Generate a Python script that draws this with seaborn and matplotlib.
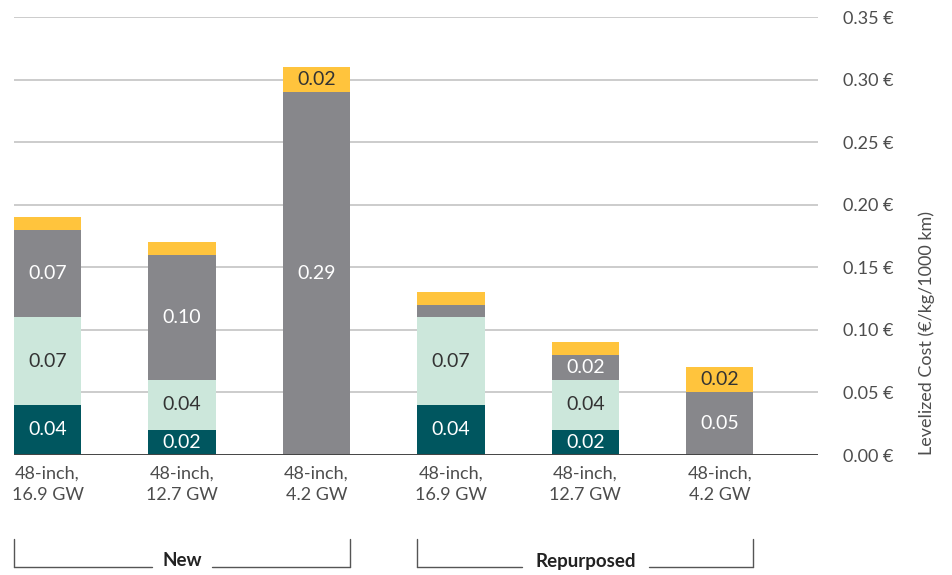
import matplotlib
matplotlib.use("Agg")
import matplotlib.pyplot as plt
import matplotlib.transforms as mtransforms
from matplotlib.lines import Line2D
import seaborn as sns
import pandas as pd
import numpy as np

# ---- data ----
bar_ids = ["N1", "N2", "N3", "R1", "R2", "R3"]
tick_labels = ["48-inch,\n16.9 GW", "48-inch,\n12.7 GW", "48-inch,\n4.2 GW",
               "48-inch,\n16.9 GW", "48-inch,\n12.7 GW", "48-inch,\n4.2 GW"]
seg1 = [0.04, 0.02, 0.00, 0.04, 0.02, 0.00]   # dark teal
seg2 = [0.07, 0.04, 0.00, 0.07, 0.04, 0.00]   # light green
seg3 = [0.07, 0.10, 0.29, 0.01, 0.02, 0.05]   # gray
seg4 = [0.01, 0.01, 0.02, 0.01, 0.01, 0.02]   # yellow
groups = ["New", "Repurposed"]
yticks = [0.00, 0.05, 0.10, 0.15, 0.20, 0.25, 0.30, 0.35]

colors = ["#00565F", "#CCE7DB", "#87878B", "#FFC43D"]
text_colors = ["white", "#333333", "white", "#333333"]

sns.set_theme(style="white")
plt.rcParams["font.family"] = ["Lato", "DejaVu Sans"]

fig = plt.figure(figsize=(9.53, 5.75), dpi=100)
ax = fig.add_axes([14/953, 120/575, 804/953, 438/575])

layers = [seg1, seg2, seg3, seg4]
bottom = np.zeros(len(bar_ids))
for vals, c, tc in zip(layers, colors, text_colors):
    df = pd.DataFrame({"bar": bar_ids, "val": vals})
    sns.barplot(data=df, x="bar", y="val", order=bar_ids, color=c,
                bottom=bottom.copy(), width=0.5, ax=ax, zorder=3,
                saturation=1, linewidth=0)
    for i, v in enumerate(vals):
        if v >= 0.015:
            ax.text(i, bottom[i] + v / 2, f"{v:.2f}", ha="center", va="center",
                    color=tc, fontsize=14, fontweight="normal", zorder=5)
    bottom = bottom + np.array(vals)

ax.set_xlim(-0.25, 5.73)
ax.set_ylim(0, 0.35)
for y in yticks[1:]:
    ax.axhline(y, color="#C4C4C4", lw=1.2, zorder=1)
ax.axhline(0, color="#444444", lw=1.4, zorder=4)

for s in ax.spines.values():
    s.set_visible(False)

ax.yaxis.tick_right()
ax.yaxis.set_label_position("right")
ax.set_yticks(yticks)
ax.set_yticklabels([f"{v:.2f} €" for v in yticks], fontsize=13,
                   color="#4D4D4D")
ax.tick_params(axis="y", which="both", length=0, pad=18, right=True, left=False)
ax.set_ylabel("Levelized Cost (€/kg/1000 km)", fontsize=13, color="#4D4D4D",
              labelpad=18, loc="bottom")

ax.set_xticks(range(len(bar_ids)))
ax.set_xticklabels(tick_labels, fontsize=13, color="#4D4D4D",
                   linespacing=1.4)
ax.tick_params(axis="x", length=0, pad=8)
ax.set_xlabel("")

# group brackets
trans = mtransforms.blended_transform_factory(ax.transData, fig.transFigure)
y_top = 1 - 539/575
y_bot = 1 - 567/575
y_txt = 1 - 561/575
spans = [(-0.25, 2.25), (2.75, 5.25)]
gaps = [0.22, 0.47]
for (x0, x1), name, g in zip(spans, groups, gaps):
    xm = (x0 + x1) / 2
    for xs, ys in [([x0, x0], [y_top, y_bot]), ([x1, x1], [y_top, y_bot]),
                   ([x0, xm - g], [y_bot, y_bot]), ([xm + g, x1], [y_bot, y_bot])]:
        fig.add_artist(Line2D(xs, ys, transform=trans, color="#555555", lw=1.0))
    fig.text(xm, y_txt, name, transform=trans, ha="center", va="center",
             fontsize=13.5, fontweight="bold", color="#222222")

fig.savefig("out.png", dpi=100)
